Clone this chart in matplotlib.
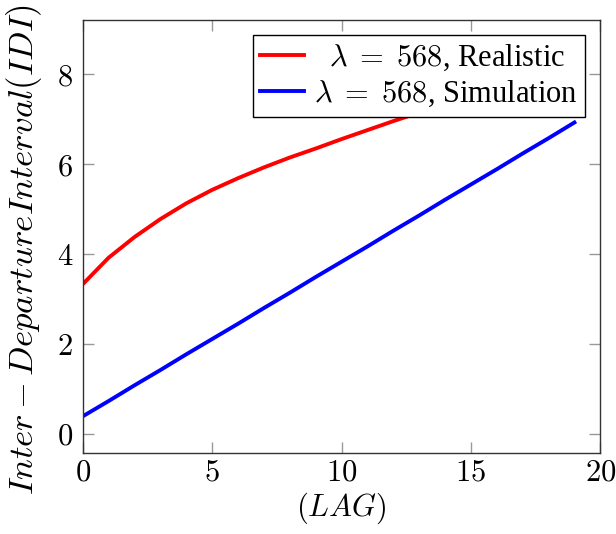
import numpy as np
import matplotlib
matplotlib.use("Agg")
import matplotlib.pyplot as plt
from matplotlib.ticker import FuncFormatter

# %% Data

lag = [0, 1, 2, 3, 4, 5, 6, 7, 8, 9, 10, 11, 12, 13, 14, 15, 16, 17, 18, 19]
idi_realistic = [3.33, 3.92, 4.38, 4.78, 5.13, 5.43, 5.69, 5.93, 6.15, 6.35,
                 6.56, 6.76, 6.96, 7.15, 7.34, 7.52, 7.70, 7.88, 8.05, 8.22]
idi_simulation = [0.39, 0.73, 1.08, 1.42, 1.77, 2.11, 2.45, 2.80, 3.14, 3.49,
                  3.83, 4.17, 4.52, 4.86, 5.21, 5.55, 5.89, 6.24, 6.58, 6.93]
labels = [r"  $\lambda \;=\; 568$, Realistic", r"$\lambda \;=\; 568$, Simulation"]
xticks = [0, 5, 10, 15, 20]
yticks = [0, 2, 4, 6, 8]

# %% Style

plt.rcParams["font.family"] = ["Liberation Serif", "DejaVu Serif"]
plt.rcParams["mathtext.fontset"] = "cm"

fig = plt.figure(figsize=(6.16, 5.34), dpi=100)
ax = fig.add_axes([0.1343, 0.1522, 0.8402, 0.8111])

ax.plot(lag, idi_realistic, color="red", lw=2.8, label=labels[0])
ax.plot(lag, idi_simulation, color="blue", lw=2.8, label=labels[1])

ax.set_xlim(0, 20)
ax.set_ylim(-0.42, 9.22)
ax.set_xticks(xticks)
ax.set_yticks(yticks)
fmt = FuncFormatter(lambda v, p: r"$%d$" % v)
ax.xaxis.set_major_formatter(fmt)
ax.yaxis.set_major_formatter(fmt)
ax.tick_params(direction="in", length=8, width=1, color="#999999",
               top=True, right=True, labelsize=22)
ax.tick_params(axis="y", pad=7)
ax.tick_params(axis="x", pad=4)
for s in ax.spines.values():
    s.set_linewidth(1.0)
    s.set_color("#333333")

ax.set_xlabel(r"$(LAG)$", fontsize=22, labelpad=2)
ax.set_ylabel(r"$Inter - DepartureInterval(IDI)$", fontsize=25)
ax.yaxis.set_label_coords(-0.075, 0.47)

leg = ax.legend(loc="upper right", fontsize=22, frameon=True, fancybox=False,
                edgecolor="black", framealpha=1, handlelength=1.45,
                handletextpad=0.3, borderpad=0.25, labelspacing=0.2,
                borderaxespad=0.5)
leg.get_frame().set_linewidth(1.0)

fig.savefig("out.png", dpi=100)
